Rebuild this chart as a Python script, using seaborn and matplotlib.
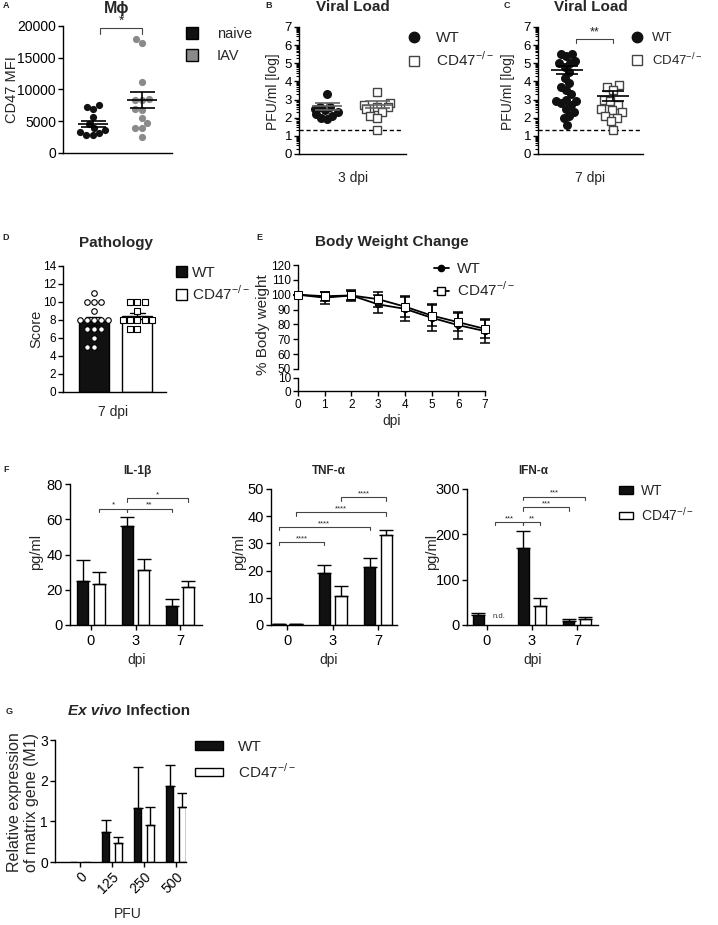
import numpy as np
import pandas as pd
import matplotlib
matplotlib.use("Agg")
import matplotlib.pyplot as plt
from matplotlib.patches import Patch
from matplotlib.lines import Line2D
import seaborn as sns

# ==================================================
# Daten
# ==================================================
# A: CD47 MFI Makrophagen
mfi_groups = ["naive", "IAV"]
mfi_naive = [7500, 7300, 7000, 5700, 4500, 3900, 3600, 3300, 3100, 2900, 2800]
mfi_iav = [18000, 17400, 11200, 8500, 8400, 8300, 7000, 6700, 5500, 4700, 3900, 3900, 2500]
mfi_mean = [4600, 8300]
mfi_sem = [500, 1250]

# B/C: Viruslast (log PFU/ml)
strains = ["WT", "CD47"]
load3_wt = [3.3, 2.6, 2.6, 2.5, 2.4, 2.3, 2.2, 2.1, 2.0, 1.95]
load3_ko = [3.4, 2.8, 2.7, 2.6, 2.6, 2.5, 2.3, 2.1, 2.0, 1.3]
load3_mean = [2.62, 2.72]
load3_sem = [0.18, 0.2]
load7_wt = [5.5, 5.5, 5.4, 5.1, 5.0, 5.0, 4.8, 4.5, 4.2, 3.9, 3.7, 3.5,
            3.3, 3.0, 2.9, 2.9, 2.8, 2.7, 2.5, 2.3, 2.1, 2.0, 1.6]
load7_ko = [3.8, 3.7, 3.5, 3.0, 2.9, 2.7, 2.5, 2.4, 2.3, 2.1, 2.0, 1.8, 1.3]
load7_mean = [4.65, 3.2]
load7_sem = [0.22, 0.28]
detection_limit = 1.3

# D: Pathologie-Score
score_wt = [11, 10, 10, 10, 9, 8, 8, 8, 8, 8, 7, 7, 7, 6, 5, 5]
score_ko = [10, 10, 10, 9, 8, 8, 8, 8, 8, 7, 7]

# E: Gewichtsverlauf
bw_days = [0, 1, 2, 3, 4, 5, 6, 7]
bw_wt = [100, 98, 99.5, 93.5, 90.5, 84.5, 79.5, 75.5]
bw_wt_err = [0, 4, 4, 6, 8, 9, 9, 8]
bw_ko = [100, 99, 99.5, 97, 92, 86, 81.5, 77]
bw_ko_err = [0, 3, 3, 5, 7, 7, 6, 6]

# F: Zytokine
cyto_days = ["0", "3", "7"]
il1b_wt, il1b_wt_err = [25, 56, 10.5], [12, 5.5, 4]
il1b_ko, il1b_ko_err = [23, 31, 21.5], [7, 6.5, 3.5]
tnf_wt, tnf_wt_err = [0.4, 19, 21.5], [0.1, 3.2, 3.0]
tnf_ko, tnf_ko_err = [0.3, 10.7, 33], [0.1, 3.5, 2.0]
ifn_wt, ifn_wt_err = [22, 170, 9], [5, 38, 5]
ifn_ko, ifn_ko_err = [np.nan, 43, 13], [np.nan, 17, 4]
# Signifikanz: ((Gruppe, Stamm), (Gruppe, Stamm), Label, Hoehe)
il1b_sig = [((0, 1), (1, 0), "*", 66), ((1, 0), (2, 0), "**", 66), ((1, 0), (2, 1), "*", 72)]
tnf_sig = [((0, 0), (1, 0), "****", 30.5), ((0, 0), (2, 0), "****", 36),
           ((0, 1), (2, 1), "****", 41.5), ((1, 1), (2, 1), "****", 47)]
ifn_sig = [((0, 1), (1, 0), "***", 227), ((1, 0), (1, 1), "**", 227),
           ((1, 0), (2, 0), "***", 260), ((1, 0), (2, 1), "***", 283)]

# G: Ex vivo Infektion
pfu_labels = ["0", "125", "250", "500"]
m1_wt, m1_wt_err = [0, 0.73, 1.33, 1.87], [0, 0.3, 1.0, 0.52]
m1_ko, m1_ko_err = [0, 0.47, 0.92, 1.35], [0, 0.15, 0.43, 0.34]

KO_LABEL = "CD47$^{\\mathregular{-/-}}$"
BLACK = "#111111"

# ==================================================
# Layout
# ==================================================
sns.set_theme(style="ticks")
plt.rcParams["font.family"] = ["Liberation Sans", "DejaVu Sans"]
plt.rcParams.update({
    "axes.linewidth": 1.0, "xtick.major.width": 1.0, "ytick.major.width": 1.0,
    "xtick.major.size": 3.5, "ytick.major.size": 3.5,
    "xtick.major.pad": 2, "ytick.major.pad": 1.5,
    "axes.edgecolor": "black", "xtick.color": "black", "ytick.color": "black",
})

W, H = 718, 925
fig = plt.figure(figsize=(W / 100, H / 100), dpi=100)
swarm_sets = []  # (Collections, Stauchfaktor)


def px_axes(l, t, r, b):
    ax = fig.add_axes([l / W, 1 - b / H, (r - l) / W, (b - t) / H])
    ax.set_facecolor("none")
    return ax


def px_text(x, y, s, **kw):
    kw.setdefault("ha", "center")
    kw.setdefault("va", "center")
    return fig.text(x / W, 1 - y / H, s, **kw)


def px_legend(handles, labels, x, y, fs=10.5, **kw):
    opts = dict(loc="upper left", bbox_to_anchor=(x / W, 1 - y / H), bbox_transform=fig.transFigure,
                frameon=False, fontsize=fs, borderpad=0, borderaxespad=0,
                handletextpad=0.8, labelspacing=0.45)
    opts.update(kw)
    fig.legend(handles, labels, **opts)


def clean(ax):
    sns.despine(ax=ax)
    ax.set_xlabel("")
    ax.set_ylabel("")


def mean_sem(ax, i, m, s, half, cap, color="black"):
    ax.hlines(m, i - half, i + half, color=color, lw=1.2, zorder=5)
    ax.errorbar(i, m, yerr=s, fmt="none", ecolor=color, elinewidth=1.2, capsize=cap, capthick=1.2, zorder=5)


def bracket(ax, x1, x2, y, label, drop, fs, color="#444444"):
    ax.plot([x1, x1, x2, x2], [y - drop, y, y, y - drop], color=color, lw=0.8, clip_on=False)
    ax.text((x1 + x2) / 2, y, label, ha="center", va="bottom", fontsize=fs, color="#222222")


def swarm(ax, name, order, vals, marker, fc, ec, size, lw, squeeze=1.0):
    n_before = len(ax.collections)
    sns.swarmplot(x=[name] * len(vals), y=vals, order=order, ax=ax, marker=marker,
                  color=fc, edgecolor=ec, linewidth=lw, size=size, warn_thresh=1)
    if squeeze != 1.0:
        swarm_sets.append((ax.collections[n_before:], squeeze))


def squeeze_swarms():
    # Beeswarm einmal rechnen lassen, dann enger zusammenschieben (GraphPad-Optik)
    fig.canvas.draw()
    for colls, factor in swarm_sets:
        for coll in colls:
            if "draw" in coll.__dict__:
                del coll.draw
            offs = np.asarray(coll.get_offsets(), dtype=float).copy()
            if len(offs) < 2:
                continue
            c = np.round(np.median(offs[:, 0]))
            offs[:, 0] = c + (offs[:, 0] - c) * factor
            coll.set_offsets(offs)


# ---------------- A ----------------
axA = px_axes(63, 26, 172, 153)
swarm(axA, "naive", mfi_groups, mfi_naive, "o", BLACK, BLACK, 5.2, 0, 0.85)
swarm(axA, "IAV", mfi_groups, mfi_iav, "o", "#8a8a8a", "#8a8a8a", 5.2, 0, 0.95)
for i in range(2):
    mean_sem(axA, i, mfi_mean[i], mfi_sem[i], 0.3, 9)
clean(axA)
axA.set_xlim(-0.6, 1.6)
axA.set_ylim(0, 20000)
axA.set_yticks(range(0, 20001, 5000))
axA.set_xticks([])
axA.tick_params(labelsize=10)
bracket(axA, 0.15, 1.0, 19700, "*", 900, 10)
px_text(117, 8, "M\u03d5", fontsize=11.5, fontweight="bold")
px_text(12, 90, "CD47 MFI", rotation=90, fontsize=10.5)
px_text(6, 6, "A", fontsize=6.5, fontweight="bold")
px_legend([Patch(facecolor=BLACK, edgecolor="black"), Patch(facecolor="#8a8a8a", edgecolor="black")],
          ["naive", "IAV"], 186, 27, fs=10.5, handlelength=0.8, handleheight=0.8,
          handletextpad=1.3, labelspacing=0.55)


# ---------------- B / C ----------------
def viral_panel(ax, wt, ko, means, sems, xlim, half, cap, mcolor, squeeze):
    swarm(ax, "WT", strains, wt, "o", BLACK, BLACK, 6.5, 0, squeeze)
    swarm(ax, "CD47", strains, ko, "s", "white", "#444444", 6.0, 1.0, squeeze + 0.05)
    for i in range(2):
        mean_sem(ax, i, means[i], sems[i], half, cap, color=mcolor)
    clean(ax)
    ax.set_xlim(*xlim)
    ax.set_ylim(0, 7)
    ax.axhline(detection_limit, color="black", lw=1.0, ls=(0, (3, 2)), xmax=0.97)
    ax.set_yticks(range(8))
    minor = [n + np.log10(k) for n in range(7) for k in range(2, 10)]
    ax.set_yticks(minor, minor=True)
    ax.tick_params(axis="y", which="minor", length=2.2, width=0.8)
    ax.tick_params(labelsize=9.5)
    ax.set_xticks([])


axB = px_axes(299, 27, 406, 154)
viral_panel(axB, load3_wt, load3_ko, load3_mean, load3_sem, (-0.56, 1.58), 0.3, 9, "#666666", 0.6)
px_text(353, 7, "Viral Load", fontsize=11, fontweight="bold")
px_text(273, 92, "PFU/ml [log]", rotation=90, fontsize=10)
px_text(353, 178, "3 dpi", fontsize=10)
px_text(269, 6, "B", fontsize=6.5, fontweight="bold")

axC = px_axes(538, 27, 643, 154)
viral_panel(axC, load7_wt, load7_ko, load7_mean, load7_sem, (-0.63, 1.65), 0.35, 8, "black", 0.6)
bracket(axC, 0.2, 1.0, 6.35, "**", 0.25, 9)
px_text(591, 7, "Viral Load", fontsize=11, fontweight="bold")
px_text(508, 92, "PFU/ml [log]", rotation=90, fontsize=10)
px_text(590, 178, "7 dpi", fontsize=10)
px_text(507, 6, "C", fontsize=6.5, fontweight="bold")

vl_handles = [Line2D([], [], marker="o", color=BLACK, ls="none", markersize=7.5),
              Line2D([], [], marker="s", markerfacecolor="white", markeredgecolor="#444444", ls="none", markersize=7)]
px_legend(vl_handles, ["WT", KO_LABEL], 399, 31, fs=11, handletextpad=0.4, labelspacing=0.35)
px_legend(vl_handles, ["WT", KO_LABEL], 626, 32, fs=9.5, handletextpad=0.3, labelspacing=0.55,
          handlelength=1.7)

# ---------------- D ----------------
axD = px_axes(63, 266, 166, 392)
dfD = pd.DataFrame({"strain": ["WT"] * len(score_wt) + ["CD47"] * len(score_ko),
                    "score": score_wt + score_ko})
sns.barplot(data=dfD, x="strain", y="score", order=strains, hue="strain", hue_order=strains,
            palette={"WT": BLACK, "CD47": "white"}, edgecolor="black", linewidth=1.0,
            errorbar="se", capsize=0.35, err_kws={"color": "black", "linewidth": 1.0},
            width=0.69, legend=False, ax=axD)
swarm(axD, "WT", strains, score_wt, "o", "white", "black", 4.0, 0.8)
swarm(axD, "CD47", strains, score_ko, "s", "white", "black", 4.2, 0.8)
clean(axD)
axD.set_xlim(-0.71, 1.66)
axD.set_ylim(0, 14)
axD.set_yticks(range(0, 15, 2))
axD.set_xticks([])
axD.tick_params(labelsize=8.5)
px_text(116, 243, "Pathology", fontsize=11, fontweight="bold")
px_text(36, 329, "Score", rotation=90, fontsize=10.5)
px_text(113, 412, "7 dpi", fontsize=10)
px_text(6, 238, "D", fontsize=6.5, fontweight="bold")
px_legend([Patch(facecolor=BLACK, edgecolor="black"), Patch(facecolor="white", edgecolor="black")],
          ["WT", KO_LABEL], 176, 266, fs=11, handlelength=0.7, handleheight=0.7,
          handletextpad=0.35, labelspacing=0.3)

# ---------------- E ----------------
axE = px_axes(298, 265, 485, 369)
axE2 = px_axes(298, 378, 485, 391)
for vals, errs, mk, mfc, ms in [(bw_wt, bw_wt_err, "o", BLACK, 4.5), (bw_ko, bw_ko_err, "s", "white", 5.5)]:
    sns.lineplot(x=bw_days, y=vals, ax=axE, color="black", linewidth=1.3, marker=mk,
                 markerfacecolor=mfc, markeredgecolor="black", markersize=ms, clip_on=False, zorder=4)
    axE.errorbar(bw_days, vals, yerr=errs, fmt="none", ecolor="black", elinewidth=1.1,
                 capsize=3.5, capthick=1.1, clip_on=False)
clean(axE)
axE.spines["bottom"].set_visible(False)
axE.set_xlim(0, 7)
axE.set_ylim(50, 120)
axE.set_yticks(range(50, 121, 10))
axE.set_xticks([])
axE.tick_params(labelsize=8.5)
clean(axE2)
axE2.set_xlim(0, 7)
axE2.set_ylim(0, 10)
axE2.set_yticks([0, 10])
axE2.set_xticks(bw_days)
axE2.tick_params(labelsize=8.5)
px_text(392, 242, "Body Weight Change", fontsize=11, fontweight="bold")
px_text(263, 325, "% Body weight", rotation=90, fontsize=11)
px_text(392, 421, "dpi", fontsize=10)
px_text(259, 238, "E", fontsize=6.5, fontweight="bold")
px_legend([Line2D([], [], color="black", marker="o", markersize=4.5, lw=1.3),
           Line2D([], [], color="black", marker="s", markerfacecolor="white", markersize=5.5, lw=1.3)],
          ["WT", KO_LABEL], 434, 262, fs=11, handlelength=0.95, handletextpad=0.55, labelspacing=0.3)


# ---------------- F ----------------
def cytokine_panel(ax, wt, wt_err, ko, ko_err, ymax, ystep, xlim, sig, star_fs):
    width = 0.74
    df = pd.DataFrame({"dpi": cyto_days * 2, "strain": ["WT"] * 3 + ["CD47"] * 3,
                       "value": list(wt) + list(ko)})
    sns.barplot(data=df, x="dpi", y="value", hue="strain", hue_order=strains,
                palette={"WT": BLACK, "CD47": "white"}, edgecolor="black", linewidth=1.0,
                width=width, gap=0.34, errorbar=None, legend=False, ax=ax)
    for j, (vals, errs) in enumerate([(wt, wt_err), (ko, ko_err)]):
        xs = np.arange(3) + (j - 0.5) * width / 2
        ax.errorbar(xs, vals, yerr=[np.zeros(3), errs], fmt="none", ecolor="black",
                    elinewidth=1.0, capsize=5, capthick=1.0)
    for (g1, h1), (g2, h2), label, y in sig:
        x1 = g1 + (h1 - 0.5) * width / 2
        x2 = g2 + (h2 - 0.5) * width / 2
        bracket(ax, x1, x2, y, label, ymax * 0.025, star_fs)
    clean(ax)
    ax.set_xlim(*xlim)
    ax.set_ylim(0, ymax)
    ax.set_yticks(np.arange(0, ymax + 1, ystep))
    ax.tick_params(labelsize=10.5)
    ax.tick_params(axis="x", pad=3)


axF1 = px_axes(70, 484, 202, 625)
cytokine_panel(axF1, il1b_wt, il1b_wt_err, il1b_ko, il1b_ko_err, 80, 20, (-0.47, 2.49), il1b_sig, 6)
axF2 = px_axes(271, 489, 397, 625)
cytokine_panel(axF2, tnf_wt, tnf_wt_err, tnf_ko, tnf_ko_err, 50, 10, (-0.36, 2.42), tnf_sig, 5.5)
axF3 = px_axes(467, 489, 598, 625)
cytokine_panel(axF3, ifn_wt, ifn_wt_err, ifn_ko, ifn_ko_err, 300, 100, (-0.44, 2.47), ifn_sig, 5.5)
axF3.text(0.27, 10, "n.d.", ha="center", va="bottom", fontsize=5.5, color="#333333")

for cx, lx, title in [(137, 36, "IL-1\u03b2"), (329, 239, "TNF-\u03b1"), (533, 432, "IFN-\u03b1")]:
    px_text(cx, 471, title, fontsize=8.5, fontweight="bold")
    px_text(lx, 552, "pg/ml", rotation=90, fontsize=10.5)
    px_text(cx, 660, "dpi", fontsize=10)
px_text(6, 470, "F", fontsize=6.5, fontweight="bold")
px_legend([Patch(facecolor=BLACK, edgecolor="black"), Patch(facecolor="white", edgecolor="black")],
          ["WT", KO_LABEL], 619, 484, fs=10, handlelength=1.0, handleheight=0.45,
          handletextpad=0.6, labelspacing=0.55)

# ---------------- G ----------------
axG = px_axes(55, 740, 186, 862)
widthG = 0.78
dfG = pd.DataFrame({"pfu": pfu_labels * 2, "strain": ["WT"] * 4 + ["CD47"] * 4,
                    "value": m1_wt + m1_ko})
sns.barplot(data=dfG, x="pfu", y="value", hue="strain", hue_order=strains,
            palette={"WT": BLACK, "CD47": "white"}, edgecolor="black", linewidth=1.0,
            width=widthG, gap=0.44, errorbar=None, legend=False, ax=axG)
for j, (vals, errs) in enumerate([(m1_wt, m1_wt_err), (m1_ko, m1_ko_err)]):
    xs = np.arange(4) + (j - 0.5) * widthG / 2
    axG.errorbar(xs[1:], vals[1:], yerr=[np.zeros(3), errs[1:]], fmt="none", ecolor="black",
                 elinewidth=1.0, capsize=3.5, capthick=1.0)
clean(axG)
axG.set_xlim(-0.78, 3.31)
axG.set_ylim(0, 3)
axG.set_yticks([0, 1, 2, 3])
axG.set_xticks(range(4))
axG.set_xticklabels(pfu_labels, rotation=45, ha="right", rotation_mode="anchor")
axG.tick_params(labelsize=10)
t1 = px_text(68, 711, "Ex vivo", fontsize=11, fontweight="bold", fontstyle="italic", ha="left")
axG.annotate(" Infection", xy=(1, 0), xycoords=t1, va="bottom", ha="left",
             fontsize=11, fontweight="bold")
px_text(15, 802, "Relative expression", rotation=90, fontsize=11.5)
px_text(32, 802, "of matrix gene (M1)", rotation=90, fontsize=11.5)
px_text(128, 914, "PFU", fontsize=10)
px_text(9, 711, "G", fontsize=6.5, fontweight="bold")
px_legend([Patch(facecolor=BLACK, edgecolor="black"), Patch(facecolor="white", edgecolor="black")],
          ["WT", KO_LABEL], 195, 740, fs=11, handlelength=1.8, handleheight=0.45,
          handletextpad=1.0, labelspacing=0.5)

squeeze_swarms()
fig.savefig("out.png", dpi=100)
